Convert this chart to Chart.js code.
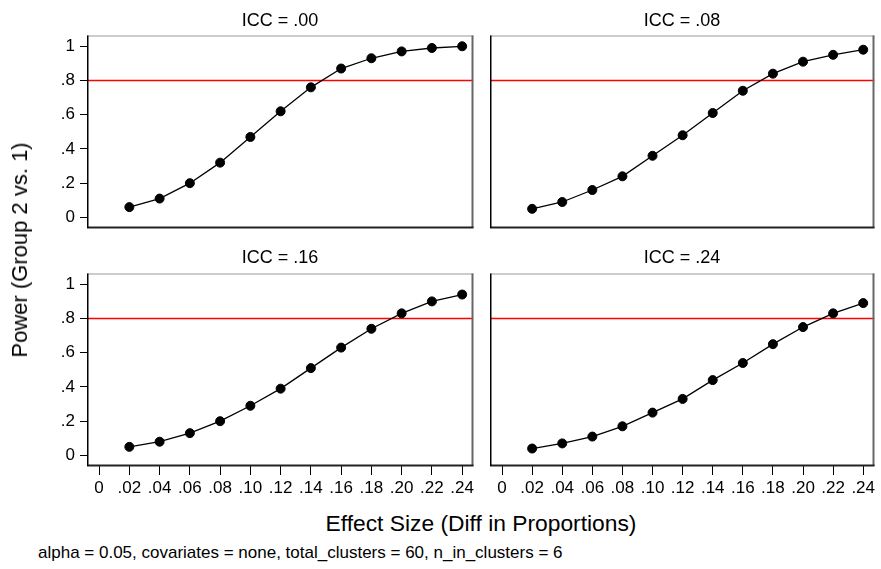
<!DOCTYPE html>
<html>
<head>
<meta charset="utf-8">
<script src="https://cdn.jsdelivr.net/npm/chart.js@4.4.1/dist/chart.umd.min.js"></script>
<style>
    body { margin:0; background:#fff; font-family:"Liberation Sans", Arial, Helvetica, sans-serif; }
    #wrap { position:relative; width:881px; height:569px; overflow:hidden; }
    canvas { position:absolute; }
    .txt { position:absolute; white-space:nowrap; color:#000; }
    .ttl { font-size:18px; transform:translate(-50%,-50%); }
</style>
</head>
<body>
<div id="wrap">
    <canvas id="c1"></canvas>
    <canvas id="c2"></canvas>
    <canvas id="c3"></canvas>
    <canvas id="c4"></canvas>

    <div class="txt ttl" style="left:280px;top:20px">ICC = .00</div>
    <div class="txt ttl" style="left:682px;top:20px">ICC = .08</div>
    <div class="txt ttl" style="left:280px;top:257px">ICC = .16</div>
    <div class="txt ttl" style="left:682px;top:257px">ICC = .24</div>

    <div class="txt" style="left:20px;top:250px;font-size:22px;transform:translate(-50%,-50%) rotate(-90deg)">Power (Group 2 vs. 1)</div>
    <div class="txt" style="left:481px;top:523px;font-size:22.8px;transform:translate(-50%,-50%)">Effect Size (Diff in Proportions)</div>
    <div class="txt" style="left:38px;top:553px;font-size:17px;transform:translateY(-50%)">alpha = 0.05, covariates = none, total_clusters = 60, n_in_clusters = 6</div>
</div>

<script>
// data
var effect = [0.02, 0.04, 0.06, 0.08, 0.10, 0.12, 0.14, 0.16, 0.18, 0.20, 0.22, 0.24];
var icc00 = [0.06, 0.11, 0.20, 0.32, 0.47, 0.62, 0.76, 0.87, 0.93, 0.97, 0.99, 1.00];
var icc08 = [0.05, 0.09, 0.16, 0.24, 0.36, 0.48, 0.61, 0.74, 0.84, 0.91, 0.95, 0.98];
var icc16 = [0.05, 0.08, 0.13, 0.20, 0.29, 0.39, 0.51, 0.63, 0.74, 0.83, 0.90, 0.94];
var icc24 = [0.04, 0.07, 0.11, 0.17, 0.25, 0.33, 0.44, 0.54, 0.65, 0.75, 0.83, 0.89];

var xTickVals = [0, 0.02, 0.04, 0.06, 0.08, 0.10, 0.12, 0.14, 0.16, 0.18, 0.20, 0.22, 0.24];
var xTickLabels = ['0', '.02', '.04', '.06', '.08', '.10', '.12', '.14', '.16', '.18', '.20', '.22', '.24'];
var yTickVals = [0, 0.2, 0.4, 0.6, 0.8, 1];
var yTickLabels = ['0', '.2', '.4', '.6', '.8', '1'];
var target = 0.8;

var xMin = -0.008, xMax = 0.2475;
var yMin = -0.062, yMax = 1.063;

var FONT = '"Liberation Sans", Arial, Helvetica, sans-serif';

// stata-like box round the plot area
var framePlugin = {
    id: 'frame',
    afterDraw: function(chart){
        var a = chart.chartArea, c = chart.ctx;
        c.save();
        c.lineWidth = 1;
        c.strokeStyle = '#999';
        c.beginPath(); c.moveTo(a.left, a.top + 0.5); c.lineTo(a.right, a.top + 0.5); c.stroke();
        c.lineWidth = 2;
        c.strokeStyle = '#666';
        c.beginPath(); c.moveTo(a.right - 1, a.top); c.lineTo(a.right - 1, a.bottom); c.stroke();
        c.strokeStyle = '#222';
        c.beginPath(); c.moveTo(a.left, a.bottom - 0.5); c.lineTo(a.right, a.bottom - 0.5); c.stroke();
        c.lineWidth = 1.5;
        c.strokeStyle = '#000';
        c.beginPath(); c.moveTo(a.left + 0.75, a.top); c.lineTo(a.left + 0.75, a.bottom); c.stroke();
        c.restore();
    }
};

function makePanel(id, values, area, showY, showX){
    // area = plot box in page pixels
    var padL = 57, padT = 3, padR = 5, padB = 32;
    var cv = document.getElementById(id);
    var w = area.right - area.left + padL + padR;
    var h = area.bottom - area.top + padT + padB;
    cv.style.left = (area.left - padL) + 'px';
    cv.style.top = (area.top - padT) + 'px';
    cv.style.width = w + 'px';
    cv.style.height = h + 'px';
    cv.width = w;
    cv.height = h;

    var pts = effect.map(function(e, i){ return {x: e, y: values[i]}; });

    return new Chart(cv.getContext('2d'), {
        type: 'line',
        data: {
            datasets: [
                {
                    data: pts,
                    borderColor: '#000',
                    borderWidth: 1.3,
                    pointRadius: 4.5,
                    pointBackgroundColor: '#000',
                    pointBorderColor: '#000',
                    pointBorderWidth: 1,
                    tension: 0,
                    order: 1
                },
                {
                    data: [{x: xMin, y: target}, {x: xMax, y: target}],
                    borderColor: '#ff0000',
                    borderWidth: 1.5,
                    pointRadius: 0,
                    order: 2
                }
            ]
        },
        options: {
            responsive: false,
            animation: false,
            layout: { padding: { top: padT, right: padR, left: 0, bottom: 0 } },
            plugins: { legend: { display: false }, tooltip: { enabled: false } },
            scales: {
                x: {
                    type: 'linear',
                    min: xMin,
                    max: xMax,
                    afterBuildTicks: function(s){ s.ticks = xTickVals.map(function(v){ return {value: v}; }); },
                    afterFit: function(s){ s.height = padB; s.paddingLeft = 0; s.paddingRight = 0; },
                    border: { display: false },
                    grid: { drawOnChartArea: false, drawTicks: showX, tickLength: 9, color: '#000', lineWidth: 1 },
                    ticks: {
                        display: showX,
                        autoSkip: false,
                        maxRotation: 0,
                        padding: 3,
                        color: '#000',
                        font: { family: FONT, size: 17 },
                        callback: function(v, i){ return xTickLabels[i]; }
                    }
                },
                y: {
                    type: 'linear',
                    min: yMin,
                    max: yMax,
                    afterBuildTicks: function(s){ s.ticks = yTickVals.map(function(v){ return {value: v}; }); },
                    afterFit: function(s){ s.width = padL; s.paddingTop = 0; s.paddingBottom = 0; },
                    border: { display: false },
                    grid: { drawOnChartArea: false, drawTicks: showY, tickLength: 7, color: '#000', lineWidth: 1 },
                    ticks: {
                        display: showY,
                        padding: 5,
                        color: '#000',
                        font: { family: FONT, size: 17 },
                        callback: function(v, i){ return yTickLabels[i]; }
                    }
                }
            }
        },
        plugins: [framePlugin]
    });
}

makePanel('c1', icc00, {left: 87, right: 474, top: 33, bottom: 228}, true, false);
makePanel('c2', icc08, {left: 490, right: 875, top: 33, bottom: 228}, false, false);
makePanel('c3', icc16, {left: 87, right: 474, top: 271, bottom: 466}, true, true);
makePanel('c4', icc24, {left: 490, right: 875, top: 271, bottom: 466}, false, true);
</script>
</body>
</html>
